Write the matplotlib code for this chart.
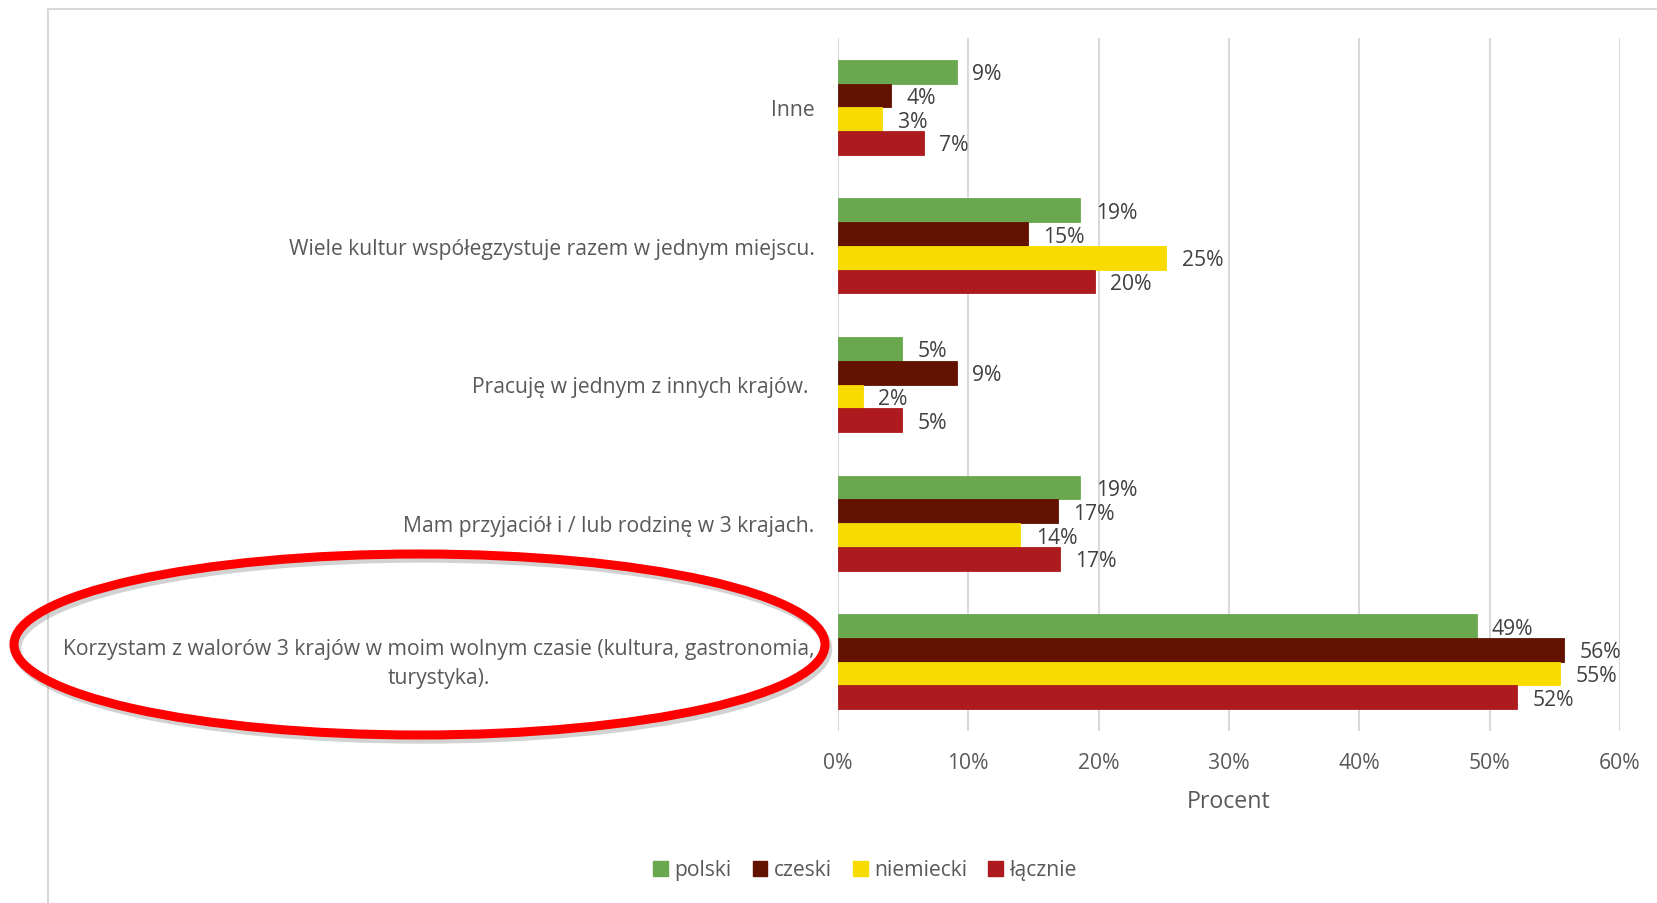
import matplotlib
matplotlib.use("Agg")
import matplotlib.pyplot as plt
import matplotlib.patheffects as pe
import matplotlib.transforms as mtransforms
from matplotlib.patches import Ellipse
from matplotlib.lines import Line2D
from matplotlib.ticker import FuncFormatter
import numpy as np

plt.rcParams['font.family'] = ['Open Sans', 'DejaVu Sans']

# categories, listed top to bottom as in the chart
categories = [
    "Inne",
    "Wiele kultur współegzystuje razem w jednym miejscu.",
    "Pracuję w jednym z innych krajów. ",
    "Mam przyjaciół i / lub rodzinę w 3 krajach.",
    "Korzystam z walorów 3 krajów w moim wolnym czasie (kultura, gastronomia,\nturystyka).",
]
series_names = ["polski", "czeski", "niemiecki", "łącznie"]
polski = [9.1, 18.6, 4.9, 18.6, 49.0]
czeski = [4.1, 14.6, 9.1, 16.9, 55.7]
niemiecki = [3.4, 25.2, 1.9, 14.0, 55.4]
lacznie = [6.6, 19.7, 4.9, 17.0, 52.1]
xticks = [0, 10, 20, 30, 40, 50, 60]
x_label = "Procent"

colors = ["#6AA84F", "#631200", "#F8DC00", "#AE1B1F"]
text_col = "#595959"
grid_col = "#D9D9D9"
FS = 15.2

W, H = 1657, 904
fig = plt.figure(figsize=(W / 100, H / 100), dpi=100)
ax = fig.add_axes([838 / W, 1 - 732 / H, (1620 - 838) / W, (732 - 39) / H])

n = len(categories)
ypos = np.arange(n)[::-1]
h = 0.1713
offsets = [1.5 * h, 0.5 * h, -0.5 * h, -1.5 * h]
all_series = [polski, czeski, niemiecki, lacznie]

for vals, name, col, off in zip(all_series, series_names, colors, offsets):
    bars = ax.barh(ypos + off, vals, height=h, color=col, label=name,
                   edgecolor=col, linewidth=0.6, zorder=3)
    for b, v in zip(bars, vals):
        ax.annotate(f"{v:.0f}%", (b.get_width(), b.get_y() + b.get_height() / 2),
                    xytext=(11, -1.5), textcoords="offset points",
                    ha="left", va="center", fontsize=FS, color="#404040", zorder=4)

ax.set_xlim(0, 60)
ax.set_ylim(-0.5, n - 0.5)
ax.set_xticks(xticks)
ax.xaxis.set_major_formatter(FuncFormatter(lambda v, p: f"{v:.0f}%"))
ax.set_yticks(ypos)
ax.set_yticklabels(categories, multialignment="center", linespacing=1.5)
ax.tick_params(axis="both", length=0, labelsize=FS, labelcolor=text_col)
ax.tick_params(axis="y", pad=17)
ax.tick_params(axis="x", pad=15)
for s in ax.spines.values():
    s.set_visible(False)
ax.grid(axis="x", color=grid_col, linewidth=1.5, zorder=0)
ax.set_axisbelow(True)
ax.set_xlabel(x_label, fontsize=FS + 1.5, color=text_col, labelpad=12)

# lift the two-line label slightly, as in the original
for lbl in ax.get_yticklabels():
    if "\n" in lbl.get_text():
        lbl.set_transform(lbl.get_transform() +
                          mtransforms.ScaledTranslation(0, 4 / 72, fig.dpi_scale_trans))

handles = [plt.Rectangle((0, 0), 1, 1, color=c) for c in colors]
fig.legend(handles, series_names, loc="center", bbox_to_anchor=(865 / W, 1 - 871 / H),
           ncol=4, frameon=False, fontsize=FS, labelcolor=text_col,
           handlelength=0.7, handleheight=0.7, handletextpad=0.3, columnspacing=1.0)

# chart border (top and left edges visible)
fig.add_artist(Line2D([47.5 / W, 1], [1 - 10 / H, 1 - 10 / H], transform=fig.transFigure,
                      color=grid_col, linewidth=1.5))
fig.add_artist(Line2D([47.5 / W, 47.5 / W], [0, 1 - 10 / H], transform=fig.transFigure,
                      color=grid_col, linewidth=1.5))

# red highlight ellipse with shadow
ell = Ellipse((419.5 / W, 1 - 645.5 / H), 811 / W, 181 / H, transform=fig.transFigure,
              fill=False, edgecolor="#FF0000", linewidth=6.5, zorder=10)
ell.set_path_effects([pe.SimpleLineShadow(offset=(2, -3), shadow_color="#808080", alpha=0.35),
                      pe.Normal()])
fig.add_artist(ell)

fig.savefig("out.png", dpi=100)
